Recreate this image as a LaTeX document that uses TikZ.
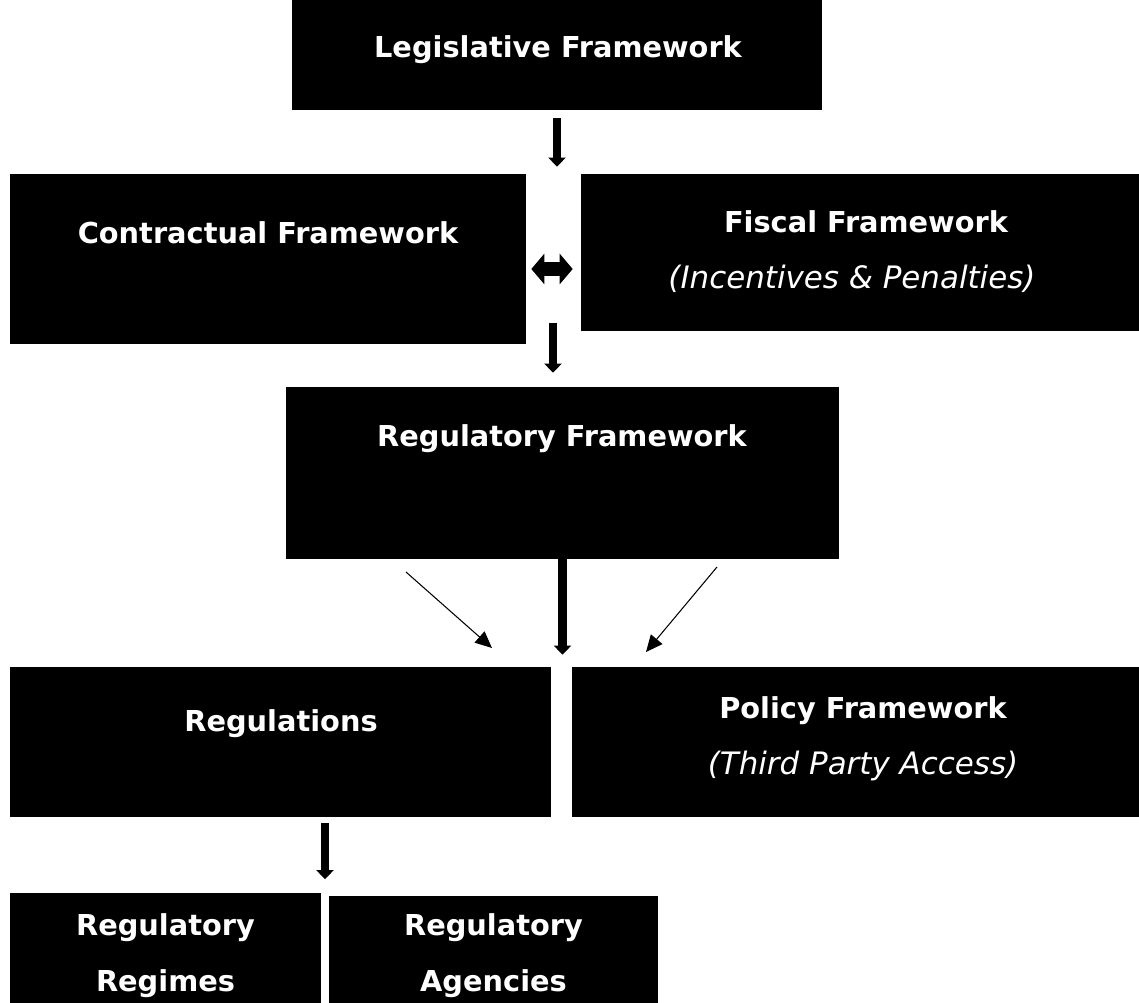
\documentclass[tikz,border=0pt]{standalone}
\usepackage{fontspec}
\setmainfont{DejaVu Sans}
\usetikzlibrary{arrows.meta,calc}

\begin{document}
\begin{tikzpicture}[
    x=0.02cm, y=-0.02cm,
    box/.style={fill=black, draw=none, inner sep=0pt},
    head/.style={text=white, font=\fontsize{16.4}{31.75}\selectfont\bfseries,
                 anchor=base, inner sep=0pt, align=center},
    sub/.style={text=white, font=\fontsize{17.6}{20}\selectfont\itshape,
                anchor=base, inner sep=0pt},
    thk/.style={-{Triangle[width=9.8pt,length=5.2pt]}, line width=#1},
    thk/.default=4.4pt,
    thn/.style={-{Triangle[width=8.5pt,length=9.5pt]}, line width=0.6pt},
    dbl/.style={{Triangle[width=17pt,length=7.4pt]}-{Triangle[width=17pt,length=7.4pt]},
                line width=8.5pt}]
  \useasboundingbox (0,0) rectangle (1139,1003);
  %% Boxes
  \node[box, minimum width=10.6cm,  minimum height=2.2cm]  (legis) at (557,55)    {};
  \node[box, minimum width=10.32cm, minimum height=3.4cm]  (contr) at (268,259)   {};
  \node[box, minimum width=11.16cm, minimum height=3.14cm] (fisc)  at (860,252.5) {};
  \node[box, minimum width=11.06cm, minimum height=3.44cm] (regf)  at (562.5,473) {};
  \node[box, minimum width=10.82cm, minimum height=3.0cm]  (regs)  at (280.5,742) {};
  \node[box, minimum width=11.34cm, minimum height=3.0cm]  (polf)  at (855.5,742) {};
  \node[box, minimum width=6.22cm,  minimum height=2.2cm]  (regim) at (165.5,948) {};
  \node[box, minimum width=6.58cm,  minimum height=2.14cm] (agenc) at (493.5,949.5) {};
  %% Texts
  \node[head] (legist) at (558,58)  {Legislative Framework};
  \node[head] (contrt) at (268,244) {Contractual Framework};
  \node[head] (fisct)  at (866,233) {Fiscal Framework};
  \node[sub]  (fiscs)  at (852,289) {(Incentives \& Penalties)};
  \node[head] (regft)  at (562,446) {Regulatory Framework};
  \node[head] (regst)  at (281,731) {Regulations};
  \node[head] (polft)  at (863,718) {Policy Framework};
  \node[sub]  (polfs)  at (863,774) {(Third Party Access)};
  \node[head] (regimt) at (165.5,991) {Regulatory\\Regimes};
  \node[head] (agenct) at (493.5,991) {Regulatory\\Agencies};
  %% Free ends
  \coordinate (mid)  at (553,323);
  \coordinate (dla)  at (406,572);
  \coordinate (dlb)  at (492,648);
  \coordinate (dra)  at (717,567);
  \coordinate (drb)  at (646,652);
  \coordinate (gap)  at ($(regim.north east)!0.5!(agenc.north west)$);
  %% Arrows
  \draw[thk] (legis.south) -- (legis.south |- contr.north)
    [shorten <=0.16cm, shorten >=0.14cm];
  \draw[dbl, shorten <=0.1cm, shorten >=0.16cm]
    (contr.east |- 0,269) -- (fisc.west |- 0,269);
  \draw[thk, shorten >=0.28cm] (mid) -- (mid |- regf.north);
  \draw[thk=5pt, shorten >=0.24cm] (regf.south) -- (regf.south |- regs.north);
  \draw[thn] (dla) -- (dlb);
  \draw[thn] (dra) -- (drb);
  \draw[thk, shorten <=0.12cm, shorten >=0.3cm] (regs.south -| gap) -- (gap);
\end{tikzpicture}
\end{document}
